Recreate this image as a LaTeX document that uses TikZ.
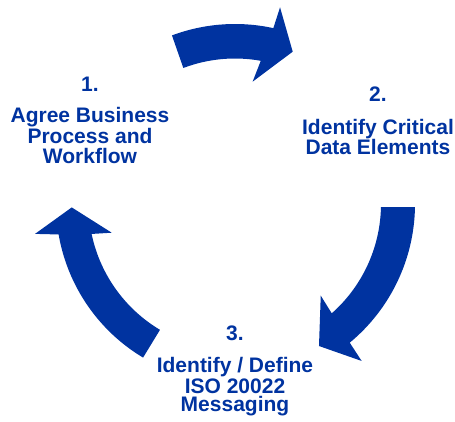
\documentclass[tikz,border=0pt]{standalone}
\usepackage{fontspec}
\newfontfamily\arialfont{Liberation Sans}
\definecolor{cycleblue}{RGB}{0,51,160}
\tikzset{
  arrowshape/.style={fill=cycleblue, draw=none},
  label/.style={font=\arialfont\bfseries\fontsize{21}{21}\selectfont, text=cycleblue, inner sep=0pt, anchor=base}
}
\begin{document}
\begin{tikzpicture}[x=1pt,y=1pt]
\useasboundingbox (0,0) rectangle (455,421);
\begin{scope}[shift={(235,217)}]
  % arrow 1 (top)
  \path[arrowshape] (110.5:180pt) arc[start angle=110.5,end angle=77.7,radius=180pt]
     -- (77.1:201.8pt) -- (69.25:162.9pt) -- (81.8:123.6pt) -- (79.8:145.5pt)
     arc[start angle=79.8,end angle=110.8,radius=145.5pt] -- cycle;
  % arrow 2 (right)
  \path[arrowshape] (-1:180pt) arc[start angle=-1,end angle=-50.4,radius=180pt]
     -- (-51.1:201.7pt) -- (-59.4:165pt) -- (-46.9:125.5pt) -- (-48.5:146pt)
     arc[start angle=-48.5,end angle=-1.2,radius=146pt] -- cycle;
  % arrow 3 (left)
  \path[arrowshape] (239.1:179pt) arc[start angle=239.1,end angle=189.8,radius=179pt]
     -- (188.5:202.2pt) -- (181.2:163.3pt) -- (193.1:126.6pt) -- (191.8:146.5pt)
     arc[start angle=191.8,end angle=239.2,radius=146.5pt] -- cycle;
\end{scope}
% block 1
\node[label] (n1) at (90,329.3) {1.};
\node[label] (t1a) at (90,298.3) {Agree Business};
\node[label] (t1b) at (90,277.7) {Process and};
\node[label] (t1c) at (90,257) {Workflow};
% block 2
\node[label] (n2) at (378,319.3) {2.};
\node[label] (t2a) at (378,286.5) {Identify Critical};
\node[label] (t2b) at (378,266) {Data Elements};
% block 3
\node[label] (n3) at (235,80.3) {3.};
\node[label] (t3a) at (235,48.3) {Identify / Define};
\node[label] (t3b) at (235,27.7) {ISO 20022};
\node[label] (t3c) at (235,9.3) {Messaging};
\end{tikzpicture}
\end{document}
